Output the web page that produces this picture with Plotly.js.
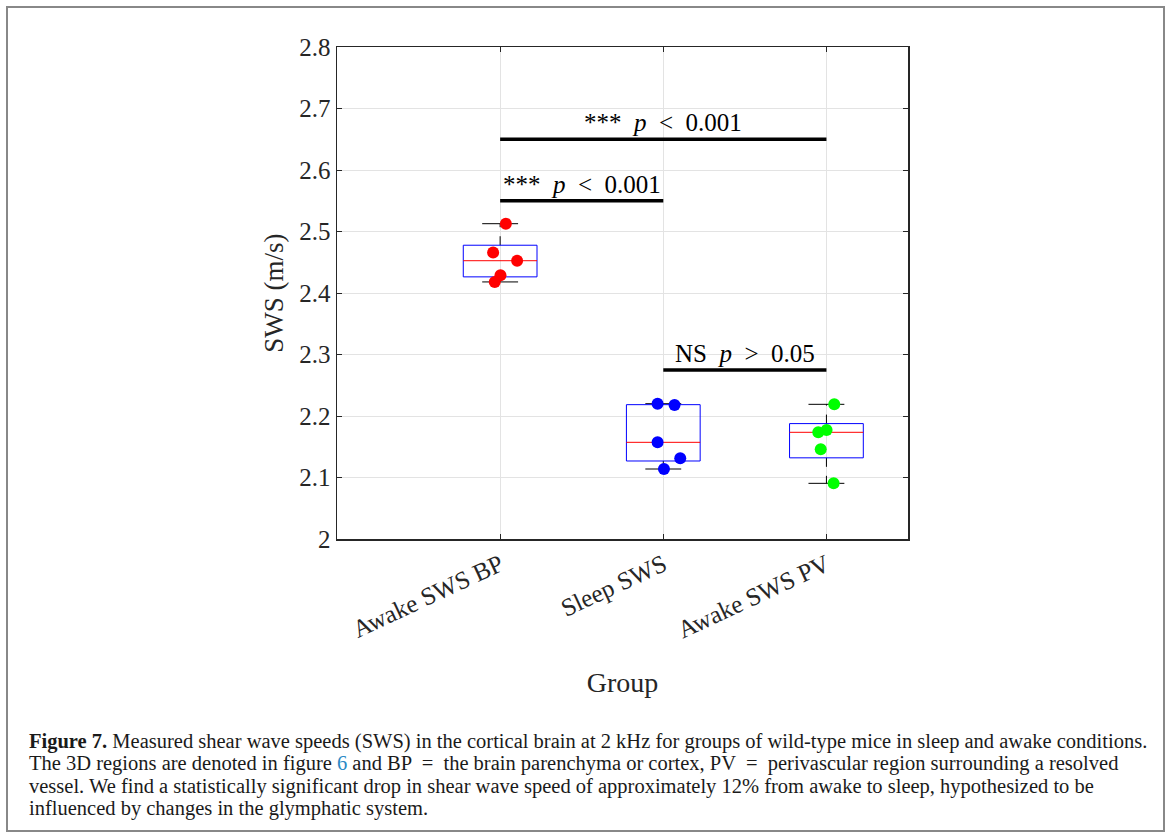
<!DOCTYPE html>
<html>
<head>
<meta charset="utf-8">
<script src="https://cdn.plot.ly/plotly-3.0.1.min.js"></script>
<style>
html,body{margin:0;padding:0;background:#fff;}
#chart{width:1167px;height:838px;}
</style>
</head>
<body>
<div id="chart"></div>
<script>
// ---- data ----
const groups = ["Awake SWS BP", "Sleep SWS", "Awake SWS PV"];
const awakeBP = [2.5127, 2.466, 2.4525, 2.429, 2.418];
const sleepSWS = [2.220, 2.2179, 2.1572, 2.1312, 2.1138];
const awakePV = [2.219, 2.1772, 2.1735, 2.1458, 2.0905];
const jitterBP = [0.035, -0.043, 0.104, 0.002, -0.033];
const jitterSleep = [-0.035, 0.069, -0.035, 0.104, 0.004];
const jitterPV = [0.048, 0.001, -0.050, -0.035, 0.044];
const yTicks = [2, 2.1, 2.2, 2.3, 2.4, 2.5, 2.6, 2.7, 2.8];
const sigFrom = [1, 1, 2];
const sigTo = [3, 2, 3];
const sigY = [2.65, 2.55, 2.275];
const sigLabels = ["***  <i>p</i>  &lt;  0.001", "***  <i>p</i>  &lt;  0.001", "NS  <i>p</i>  &gt;  0.05"];
const captionLines = [
  "<b>Figure 7.</b> Measured shear wave speeds (SWS) in the cortical brain at 2 kHz for groups of wild-type mice in sleep and awake conditions.",
  "The 3D regions are denoted in figure <span style=\"color:#2b8ac6\">6</span> and BP  =  the brain parenchyma or cortex, PV  =  perivascular region surrounding a resolved",
  "vessel. We find a statistically significant drop in shear wave speed of approximately 12% from awake to sleep, hypothesized to be",
  "influenced by changes in the glymphatic system."
];

// ---- styles ----
const pointColors = ["#ff0000", "#0000ff", "#00ff00"];
const FONT = "Liberation Serif";
const series = [awakeBP, sleepSWS, awakePV];
const jitters = [jitterBP, jitterSleep, jitterPV];
const boxHalf = 0.226, capHalf = 0.11;

// MATLAB-style percentile
function prctile(vals, p) {
  const s = vals.slice().sort((a, b) => a - b);
  const n = s.length;
  const pos = p / 100 * n + 0.5; // 1-based
  if (pos <= 1) return s[0];
  if (pos >= n) return s[n - 1];
  const lo = Math.floor(pos), f = pos - lo;
  return s[lo - 1] + f * (s[lo] - s[lo - 1]);
}

const traces = [];
series.forEach((vals, i) => {
  const x0 = i + 1;
  const q1 = prctile(vals, 25), med = prctile(vals, 50), q3 = prctile(vals, 75);
  const iqr = q3 - q1;
  const inl = vals.filter(v => v >= q1 - 1.5 * iqr && v <= q3 + 1.5 * iqr);
  const lw = Math.min(...inl), uw = Math.max(...inl);
  traces.push({x: [x0, x0, null, x0, x0], y: [q3, uw, null, q1, lw], mode: "lines",
    line: {color: "#000000", width: 1, dash: "dash"}, hoverinfo: "skip", showlegend: false});
  traces.push({x: [x0 - capHalf, x0 + capHalf, null, x0 - capHalf, x0 + capHalf], y: [uw, uw, null, lw, lw],
    mode: "lines", line: {color: "#000000", width: 1}, hoverinfo: "skip", showlegend: false});
  traces.push({x: [x0 - boxHalf, x0 + boxHalf, x0 + boxHalf, x0 - boxHalf, x0 - boxHalf],
    y: [q1, q1, q3, q3, q1], mode: "lines", line: {color: "#0000ff", width: 1}, hoverinfo: "skip", showlegend: false});
  traces.push({x: [x0 - boxHalf, x0 + boxHalf], y: [med, med], mode: "lines",
    line: {color: "#ff0000", width: 1}, hoverinfo: "skip", showlegend: false});
});
series.forEach((vals, i) => {
  traces.push({x: vals.map((v, k) => i + 1 + jitters[i][k]), y: vals, mode: "markers",
    marker: {color: pointColors[i], size: 12}, name: groups[i], showlegend: false});
});
const annotations = [];
sigY.forEach((y, k) => {
  traces.push({x: [sigFrom[k], sigTo[k]], y: [y, y], mode: "lines",
    line: {color: "#000000", width: 3.5}, hoverinfo: "skip", showlegend: false});
  annotations.push({x: (sigFrom[k] + sigTo[k]) / 2, y: y, xref: "x", yref: "y", text: sigLabels[k],
    showarrow: false, yanchor: "bottom", yshift: 1, font: {family: FONT, size: 25, color: "#000"}});
});

// layout geometry
const W = 1167, H = 838, L = 337, R = 908, T = 47, B = 539;
const pw = R - L, ph = B - T;
const px = v => (v - L) / pw, py = v => (B - v) / ph;

const capY = [741, 763, 786, 808];
captionLines.forEach((t, k) => {
  annotations.push({xref: "paper", yref: "paper", x: px(27), y: py(capY[k]), xanchor: "left", yanchor: "middle",
    text: t, showarrow: false, align: "left", font: {family: FONT, size: 20.5, color: "#1a1a1a"}});
});

const layout = {
  width: W, height: H,
  margin: {l: L, r: W - R, t: T, b: H - B, pad: 0},
  paper_bgcolor: "#ffffff", plot_bgcolor: "#ffffff",
  showlegend: false,
  font: {family: FONT, color: "#262626"},
  xaxis: {
    range: [0, 3.5], tickvals: [1, 2, 3], ticktext: groups, tickangle: -25,
    showgrid: true, gridcolor: "#e3e3e3", gridwidth: 1, zeroline: false,
    showline: true, linecolor: "#262626", linewidth: 1.5, mirror: "ticks",
    ticks: "inside", ticklen: 5, tickcolor: "#262626",
    tickfont: {family: FONT, size: 25, color: "#262626"},
    title: {text: "Group", font: {family: FONT, size: 28, color: "#262626"}, standoff: 30}
  },
  yaxis: {
    range: [2, 2.8], tickvals: yTicks, ticktext: yTicks.map(v => v === 2 ? "2" : v.toFixed(1)),
    showgrid: true, gridcolor: "#e3e3e3", gridwidth: 1, zeroline: false,
    showline: true, linecolor: "#262626", linewidth: 1.5, mirror: "ticks",
    ticks: "inside", ticklen: 5, tickcolor: "#262626",
    tickfont: {family: FONT, size: 25, color: "#262626"},
    title: {text: "SWS (m/s)", font: {family: FONT, size: 27, color: "#262626"}, standoff: 8}
  },
  shapes: [{type: "rect", xref: "paper", yref: "paper", x0: px(7), x1: px(1164), y0: py(7), y1: py(831),
    line: {color: "#888888", width: 2}, fillcolor: "rgba(0,0,0,0)", layer: "below"}],
  annotations: annotations
};

Plotly.newPlot("chart", traces, layout, {displayModeBar: false, staticPlot: true});
</script>
</body>
</html>
